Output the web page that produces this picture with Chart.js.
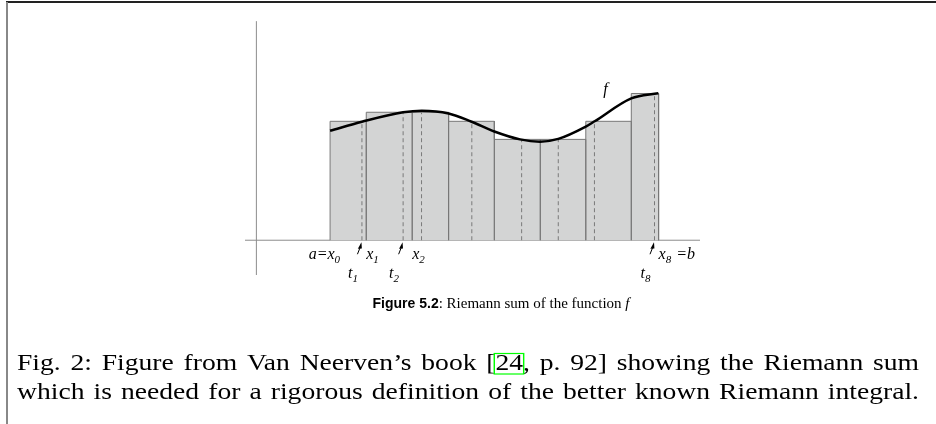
<!DOCTYPE html>
<html>
<head>
<meta charset="utf-8">
<script src="https://cdn.jsdelivr.net/npm/chart.js@4.4.1/dist/chart.umd.min.js"></script>
<style>
  html, body { margin: 0; padding: 0; background: #fff; }
  canvas { display: block; }
</style>
</head>
<body>
<canvas id="riemannChart" width="936" height="424"></canvas>
<script>
// partition points x0 .. x8  (a = x0, b = x8)
var partX = [3.24, 4.83, 6.85, 8.45, 10.46, 12.48, 14.48, 16.48, 17.68];
// tags t1 .. t8 and the bar heights f(t_i)
var tagX = [4.64, 6.45, 7.26, 9.47, 11.66, 13.27, 14.86, 17.50];
var barH = [5.13, 5.52, 5.52, 5.13, 4.35, 4.35, 5.13, 6.33];
// the function f
var curveX = [3.24, 4.64, 6.45, 7.27, 8.45, 9.46, 10.46, 11.59, 12.47, 13.27, 14.48, 14.87, 16.48, 17.67];
var curveY = [4.72, 5.11, 5.52, 5.59, 5.47, 5.11, 4.69, 4.35, 4.25, 4.37, 4.90, 5.13, 6.12, 6.34];
// axis extents
var xAxisRange = [-0.5, 19.5];
var yAxisRange = [-1.5, 9.45];
// labels under the axis
var partLabelIdx = [0, 1, 2, 8];
var partLabelPre = ['a=', '', '', ''];
var partLabelSub = ['0', '1', '2', '8'];
var partLabelPost = ['', '', '', ' =b'];
var tagLabelIdx = [0, 1, 7];
var tagLabelSub = ['1', '2', '8'];
var curveName = 'f';
// captions
var figTag = 'Figure 5.2';
var figText = ': Riemann sum of the function ';
var captionLines = [
  'Fig. 2: Figure from Van Neerven\u2019s book [24, p. 92] showing the Riemann sum',
  'which is needed for a rigorous definition of the better known Riemann integral.'
];

// bars as one outline: up, across, down for every sub-interval
var barPts = [{x: partX[0], y: 0}];
for (var i = 0; i < barH.length; i++) {
  barPts.push({x: partX[i], y: barH[i]});
  barPts.push({x: partX[i + 1], y: barH[i]});
  barPts.push({x: partX[i + 1], y: 0});
}
// dashed verticals at the tags
var dashPts = [];
tagX.forEach(function (t, i) {
  dashPts.push({x: t, y: 0}, {x: t, y: barH[i]}, {x: t, y: null});
});
var curvePts = curveX.map(function (x, i) { return {x: x, y: curveY[i]}; });

var SERIF = '"Liberation Serif", "Times New Roman", serif';

function drawPieces(ctx, pieces, x, y, doDraw) {
  pieces.forEach(function (p) {
    if (!p.t) return;
    ctx.font = p.sub ? 'italic 11px ' + SERIF : 'italic 16px ' + SERIF;
    if (doDraw) ctx.fillText(p.t, x, p.sub ? y + 4 : y);
    x += ctx.measureText(p.t).width + (p.sub ? 1 : 0);
  });
  return x;
}

// Computer Modern is wider than Times: stretch the glyphs a little, then justify
function drawJustified(ctx, text, left, right, y, stretch) {
  var words = text.split(' ');
  var widths = words.map(function (w) { return ctx.measureText(w).width * stretch; });
  var sum = widths.reduce(function (a, b) { return a + b; }, 0);
  var gap = (right - left - sum) / (words.length - 1);
  var x = left;
  words.forEach(function (w, i) {
    ctx.save();
    ctx.translate(x, y);
    ctx.scale(stretch, 1);
    ctx.fillText(w, 0, 0);
    if (w.indexOf('[24') === 0) {
      var a = ctx.measureText('[').width;
      var b = ctx.measureText('[24').width;
      ctx.strokeStyle = '#00ff00';
      ctx.lineWidth = 1.2;
      ctx.strokeRect(a - 1, -16.5, b - a + 1.5, 20.5);
    }
    ctx.restore();
    x += widths[i] + gap;
  });
}

var annotations = {
  id: 'annotations',
  afterDraw: function (chart) {
    var ctx = chart.ctx;
    var xs = chart.scales.x, ys = chart.scales.y;
    var y0 = ys.getPixelForValue(0);
    ctx.save();
    ctx.fillStyle = '#000';
    ctx.textBaseline = 'alphabetic';

    // little arrows pointing at the tags
    tagLabelIdx.forEach(function (k, j) {
      var px = xs.getPixelForValue(tagX[k]);
      var tipX = px - 0.5, tipY = y0 + 2, tailX = px - 4.5, tailY = y0 + 14;
      ctx.strokeStyle = '#000';
      ctx.lineWidth = 1;
      ctx.beginPath();
      ctx.moveTo(tailX, tailY);
      ctx.lineTo(tipX - 0.8, tipY + 4);
      ctx.stroke();
      ctx.beginPath();
      ctx.moveTo(tipX, tipY);
      ctx.lineTo(tipX - 3.6, tipY + 6.5);
      ctx.lineTo(tipX + 0.4, tipY + 6.2);
      ctx.closePath();
      ctx.fill();
      drawPieces(ctx, [{t: 't'}, {t: tagLabelSub[j], sub: true}], px - 14, y0 + 38, true);
    });

    // x_i labels
    partLabelIdx.forEach(function (k, j) {
      var px = xs.getPixelForValue(partX[k]);
      var pieces = [{t: partLabelPre[j] + 'x'}, {t: partLabelSub[j], sub: true}, {t: partLabelPost[j]}];
      var start = px;
      if (k === 0) {
        var w = drawPieces(ctx, pieces, 0, 0, false);
        start = px + 11 - w;
      }
      drawPieces(ctx, pieces, start, y0 + 19, true);
    });

    // name of the curve
    ctx.font = 'italic 16px ' + SERIF;
    ctx.fillText(curveName, xs.getPixelForValue(15.25), ys.getPixelForValue(6.3));

    // figure caption
    ctx.font = 'bold 14px "Liberation Sans", Arial, sans-serif';
    var w1 = ctx.measureText(figTag).width;
    ctx.font = '15px ' + SERIF;
    var w2 = ctx.measureText(figText).width;
    ctx.font = 'italic 15px ' + SERIF;
    var w3 = ctx.measureText(curveName).width;
    var cx = 501 - (w1 + w2 + w3) / 2, cy = 308;
    ctx.font = 'bold 14px "Liberation Sans", Arial, sans-serif';
    ctx.fillText(figTag, cx, cy);
    ctx.font = '15px ' + SERIF;
    ctx.fillText(figText, cx + w1, cy);
    ctx.font = 'italic 15px ' + SERIF;
    ctx.fillText(curveName, cx + w1 + w2, cy);

    // paper text under the box
    ctx.font = '23px ' + SERIF;
    drawJustified(ctx, captionLines[0], 17, 919, 370, 1.2);
    drawJustified(ctx, captionLines[1], 17, 919, 399, 1.2);

    // frame
    ctx.lineWidth = 2;
    ctx.strokeStyle = '#222';
    ctx.beginPath();
    ctx.moveTo(6, 2);
    ctx.lineTo(936, 2);
    ctx.stroke();
    ctx.strokeStyle = '#888';
    ctx.beginPath();
    ctx.moveTo(7, 2);
    ctx.lineTo(7, 424);
    ctx.stroke();
    ctx.restore();
  }
};

var ctx = document.getElementById('riemannChart').getContext('2d');
var riemannChart = new Chart(ctx, {
  type: 'line',
  data: {
    datasets: [
      {
        label: 'f',
        data: curvePts,
        borderColor: '#000',
        borderWidth: 2.5,
        pointRadius: 0,
        cubicInterpolationMode: 'monotone',
        fill: false
      },
      {
        label: 'tags',
        data: dashPts,
        borderColor: '#7a7a7a',
        borderWidth: 1,
        borderDash: [4, 3],
        pointRadius: 0,
        spanGaps: false,
        fill: false
      },
      {
        label: 'bars',
        data: barPts,
        borderColor: '#777',
        backgroundColor: '#d3d4d4',
        borderWidth: 1,
        pointRadius: 0,
        tension: 0,
        fill: 'origin'
      },
      {
        label: 'x axis',
        data: [{x: xAxisRange[0], y: 0}, {x: xAxisRange[1], y: 0}],
        borderColor: '#8c8c8c',
        borderWidth: 1,
        pointRadius: 0,
        fill: false
      },
      {
        label: 'y axis',
        data: [{x: 0, y: yAxisRange[0]}, {x: 0, y: yAxisRange[1]}],
        borderColor: '#8c8c8c',
        borderWidth: 1,
        pointRadius: 0,
        fill: false
      }
    ]
  },
  options: {
    responsive: false,
    animation: false,
    devicePixelRatio: 1,
    events: [],
    layout: { padding: { left: 245, right: 236, top: 20, bottom: 149 } },
    plugins: { legend: { display: false }, tooltip: { enabled: false } },
    scales: {
      x: { type: 'linear', display: false, min: xAxisRange[0], max: xAxisRange[1] },
      y: { type: 'linear', display: false, min: -1.5, max: 9.5 }
    }
  },
  plugins: [annotations]
});
</script>
</body>
</html>
